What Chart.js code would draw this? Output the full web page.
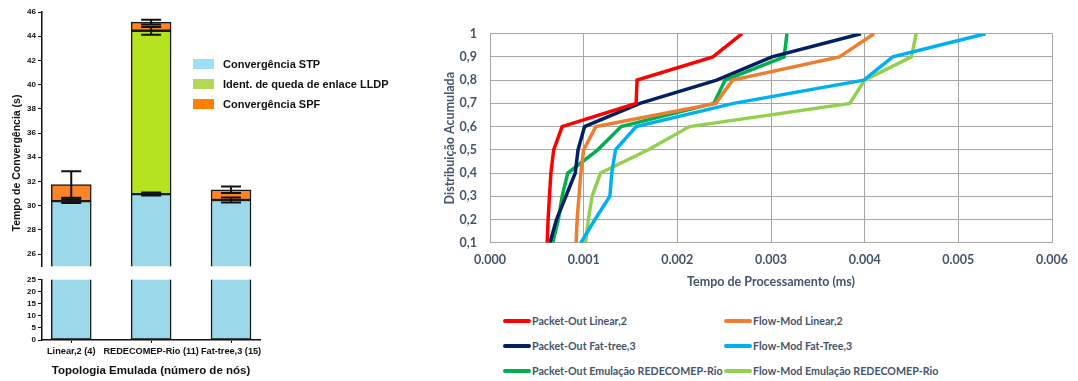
<html>
<head>
<script src="https://cdn.jsdelivr.net/npm/chart.js"></script>
<style>
  body { margin: 0; background: #fff; }
  #page { position: relative; width: 1078px; height: 381px; overflow: hidden; background: #fff; }
  canvas { position: absolute; }
  #leftTitle {
    position: absolute; left: 16px; top: 163px; width: 200px; height: 14px;
    margin-left: -100px; margin-top: -7px; text-align: center;
    transform: rotate(-90deg);
    font: bold 10.5px "Liberation Sans", Arial, sans-serif; color: #111; line-height: 14px;
  }
  .lgL { position: absolute; left: 193px; height: 14px; font: bold 11px "Liberation Sans", Arial, sans-serif; color: #111; white-space: nowrap; }
  .lgL i { position: absolute; left: 0; top: 2px; width: 21px; height: 10px; }
  .lgL span { position: absolute; left: 30px; top: 0; line-height: 14px; }
  .lgR { position: absolute; height: 16px; font: bold 12px Lato, sans-serif; color: #44546a; white-space: nowrap; }
  .lgR i { position: absolute; left: 0; top: 6px; width: 28px; height: 4px; border-radius: 2px; }
  .lgR span { position: absolute; left: 29px; top: 0; line-height: 16px; transform: scaleX(0.89); transform-origin: 0 50%; }
</style>
</head>
<body>
<div id="page">
  <canvas id="topChart" width="300" height="273" style="left:0;top:0"></canvas>
  <canvas id="bottomChart" width="300" height="108" style="left:0;top:273px"></canvas>
  <div id="leftTitle">Tempo de Convergência (s)</div>
  <div id="leftLegend"></div>
  <canvas id="cdfChart" width="648" height="300" style="left:430px;top:0"></canvas>
  <div id="rightLegend"></div>
</div>

<script>
  // ---- left chart: convergence time (stacked bars with error bars) ----
  const topologies = ['Linear,2 (4)', 'REDECOMEP-Rio (11)', 'Fat-tree,3 (15)'];
  const stpTime = [30.38, 30.96, 30.47];
  const lldpTime = [null, 13.49, null];
  const spfTime = [1.37, 0.71, 0.84];
  const stpErr = [0.15, 0.12, 0.2];
  const lldpErr = [null, 0.32, null];
  const spfErr = [1.1, 0.19, 0.27];
  const barNames = ['Convergência STP', 'Ident. de queda de enlace LLDP', 'Convergência SPF'];
  const upperTicks = [26, 28, 30, 32, 34, 36, 38, 40, 42, 44, 46];
  const lowerTicks = [0, 5, 10, 15, 20, 25];

  // ---- right chart: CDF of processing time ----
  const cdfLevels = [0.1, 0.2, 0.3, 0.4, 0.5, 0.6, 0.7, 0.8, 0.9, 1.0];
  const packetOutLinear = [0.00061, 0.00062, 0.000635, 0.00065, 0.00068, 0.00077, 0.00156, 0.00157, 0.00238, 0.00269];
  const flowModLinear = [0.00092, 0.00093, 0.00095, 0.00097, 0.001, 0.00113, 0.00241, 0.00259, 0.00373, 0.0041];
  const packetOutFatTree = [0.00064, 0.00071, 0.00081, 0.00091, 0.00094, 0.00101, 0.0016, 0.00242, 0.00301, 0.00396];
  const flowModFatTree = [0.00097, 0.00112, 0.00128, 0.0013, 0.00134, 0.00156, 0.0026, 0.00399, 0.0043, 0.00529];
  const packetOutRede = [0.00067, 0.00073, 0.00077, 0.00083, 0.00115, 0.0014, 0.00239, 0.00251, 0.00314, 0.00317];
  const flowModRede = [0.00102, 0.00105, 0.00109, 0.00118, 0.00169, 0.00213, 0.00384, 0.004, 0.0045, 0.00455];
  const seriesNames = ['Packet-Out Linear,2', 'Flow-Mod Linear,2', 'Packet-Out Fat-tree,3',
                       'Flow-Mod Fat-Tree,3', 'Packet-Out Emulação REDECOMEP-Rio', 'Flow-Mod Emulação REDECOMEP-Rio'];
  const xTickLabels = ['0.000', '0.001', '0.002', '0.003', '0.004', '0.005', '0.006'];
  const yTickLabels = ['0,1', '0,2', '0,3', '0,4', '0,5', '0,6', '0,7', '0,8', '0,9', '1'];

  const barFill = ['#9bd8e9', '#b5e31f', '#fd8426'];
  const barSwatch = ['#9ae0f7', '#b2d85a', '#ff8000'];
  const lineColors = ['#ff0000', '#ed7d31', '#002060', '#00b0f0', '#00b050', '#92d050'];

  const arial = '"Liberation Sans", Arial, sans-serif';

  function toPoints(vals) {
    return vals.map((v, i) => ({ x: i, y: v }));
  }

  function barSets() {
    const vals = [stpTime, lldpTime, spfTime];
    const errs = [stpErr, lldpErr, spfErr];
    return vals.map((v, k) => ({
      label: barNames[k],
      data: toPoints(v),
      errors: errs[k],
      backgroundColor: barFill[k],
      borderColor: '#1a1a1a',
      borderWidth: 1.5,
      borderSkipped: false,
      barThickness: 40,
      clip: 0
    }));
  }

  const errorBars = {
    id: 'errorBars',
    afterDatasetsDraw(chart) {
      const ctx = chart.ctx, xs = chart.scales.x, ys = chart.scales.y, a = chart.chartArea;
      const tops = topologies.map(() => 0);
      ctx.save();
      ctx.beginPath();
      ctx.rect(a.left, a.top - 2, a.right - a.left, a.bottom - a.top + 2);
      ctx.clip();
      ctx.strokeStyle = '#111';
      ctx.lineWidth = 2;
      chart.data.datasets.forEach(ds => {
        ds.data.forEach((p, i) => {
          if (p.y == null) return;
          tops[i] += p.y;
          const e = ds.errors[i];
          const x = xs.getPixelForValue(p.x);
          const y1 = ys.getPixelForValue(tops[i] + e);
          const y2 = ys.getPixelForValue(tops[i] - e);
          ctx.beginPath();
          ctx.moveTo(x, y1); ctx.lineTo(x, y2);
          ctx.moveTo(x - 10, y1); ctx.lineTo(x + 10, y1);
          ctx.moveTo(x - 10, y2); ctx.lineTo(x + 10, y2);
          ctx.stroke();
        });
      });
      ctx.restore();
    }
  };

  function xScale(show) {
    return {
      type: 'linear', stacked: true, min: -0.366, max: 2.3625, display: show, offset: false,
      afterBuildTicks: s => { s.ticks = topologies.map((t, i) => ({ value: i })); },
      afterFit: s => { if (show) s.height = 41; },
      ticks: { callback: v => topologies[v], color: '#111', padding: 3, maxRotation: 0, autoSkip: false,
               font: { family: arial, size: 9.2, weight: 'bold' } },
      grid: { display: true, drawOnChartArea: false, offset: false, tickLength: 3, color: '#111', lineWidth: 1 },
      border: { display: true, color: '#111', width: 1.5 },
      title: { display: show, text: 'Topologia Emulada (número de nós)', color: '#111',
               padding: { top: 0, bottom: 3 }, font: { family: arial, size: 11.5, weight: 'bold' } }
    };
  }

  function yScale(min, max, tickList) {
    return {
      stacked: true, min: min, max: max,
      afterFit: s => { s.width = 42; },
      afterBuildTicks: s => { s.ticks = tickList.map(v => ({ value: v })); },
      ticks: { color: '#111', padding: 2, autoSkip: false, font: { family: arial, size: 8, weight: 'bold' } },
      grid: { display: true, drawOnChartArea: false, tickLength: 4, color: '#111', lineWidth: 1 },
      border: { display: true, color: '#111', width: 1.5 }
    };
  }

  new Chart(document.getElementById('topChart'), {
    type: 'bar',
    data: { datasets: barSets() },
    options: {
      responsive: false, animation: false,
      layout: { padding: { left: 0, top: 12, right: 40, bottom: 4 } },
      plugins: { legend: { display: false }, tooltip: { enabled: false } },
      scales: { x: xScale(false), y: yScale(25, 46, upperTicks) }
    },
    plugins: [errorBars]
  });

  new Chart(document.getElementById('bottomChart'), {
    type: 'bar',
    data: { datasets: barSets() },
    options: {
      responsive: false, animation: false,
      layout: { padding: { left: 0, top: 4.3, right: 40, bottom: 0 } },
      plugins: { legend: { display: false }, tooltip: { enabled: false } },
      scales: { x: xScale(true), y: yScale(0, 25, lowerTicks) }
    }
  });

  // left legend (inside the plot area, right of the bars)
  const legL = document.getElementById('leftLegend');
  const legLRows = [57, 77, 96.5];
  barNames.forEach((n, k) => {
    const d = document.createElement('div');
    d.className = 'lgL';
    d.style.top = legLRows[k] + 'px';
    d.innerHTML = '<i style="background:' + barSwatch[k] + '"></i><span>' + n + '</span>';
    legL.appendChild(d);
  });

  // ---- CDF chart ----
  const cdfSeries = [packetOutLinear, flowModLinear, packetOutFatTree, flowModFatTree, packetOutRede, flowModRede];
  const lato = 'Lato, "Open Sans", sans-serif';

  new Chart(document.getElementById('cdfChart'), {
    type: 'scatter',
    data: {
      datasets: cdfSeries.map((s, k) => ({
        label: seriesNames[k],
        data: s.map((v, i) => ({ x: v, y: cdfLevels[i] })),
        showLine: true,
        borderColor: lineColors[k],
        backgroundColor: lineColors[k],
        borderWidth: 3.5,
        pointRadius: 0,
        tension: 0
      }))
    },
    options: {
      responsive: false, animation: false,
      layout: { padding: { left: 0, top: 33.7, right: 18.7, bottom: 0 } },
      plugins: { legend: { display: false }, tooltip: { enabled: false } },
      scales: {
        x: {
          type: 'linear', min: 0, max: 0.006,
          afterBuildTicks: s => { s.ticks = xTickLabels.map(l => ({ value: parseFloat(l) })); },
          afterFit: s => { s.height = 57.3; },
          ticks: { callback: (v, i) => xTickLabels[i], color: '#44546a', padding: 10, maxRotation: 0,
                   font: { family: lato, size: 12.5, weight: 'bold' } },
          grid: { color: '#a6a6a6', lineWidth: 1, drawTicks: false },
          border: { color: '#a6a6a6', width: 1 },
          title: { display: true, text: 'Tempo de Processamento (ms)', color: '#44546a',
                   padding: { top: 0, bottom: 11 }, font: { family: lato, size: 12.5, weight: 'bold' } }
        },
        y: {
          min: 0.1, max: 1,
          afterBuildTicks: s => { s.ticks = yTickLabels.map(l => ({ value: parseFloat(l.replace(',', '.')) })); },
          afterFit: s => { s.width = 60; },
          ticks: { callback: (v, i) => yTickLabels[i], color: '#44546a', padding: 13, autoSkip: false,
                   font: { family: lato, size: 12.5, weight: 'bold' } },
          grid: { color: '#a6a6a6', lineWidth: 1, drawTicks: false },
          border: { color: '#a6a6a6', width: 1 },
          title: { display: true, text: 'Distribuição Acumulada', color: '#44546a',
                   padding: { top: 12, bottom: 0 }, font: { family: lato, size: 12.5, weight: 'bold' } }
        }
      }
    }
  });

  // right legend: two columns, three rows
  const legR = document.getElementById('rightLegend');
  const colX = [503, 724];
  const rowY = [312.7, 337.7, 362.7];
  seriesNames.forEach((n, k) => {
    const d = document.createElement('div');
    d.className = 'lgR';
    d.style.left = colX[k % 2] + 'px';
    d.style.top = rowY[Math.floor(k / 2)] + 'px';
    d.innerHTML = '<i style="background:' + lineColors[k] + '"></i><span>' + n + '</span>';
    legR.appendChild(d);
  });
</script>
</body>
</html>
